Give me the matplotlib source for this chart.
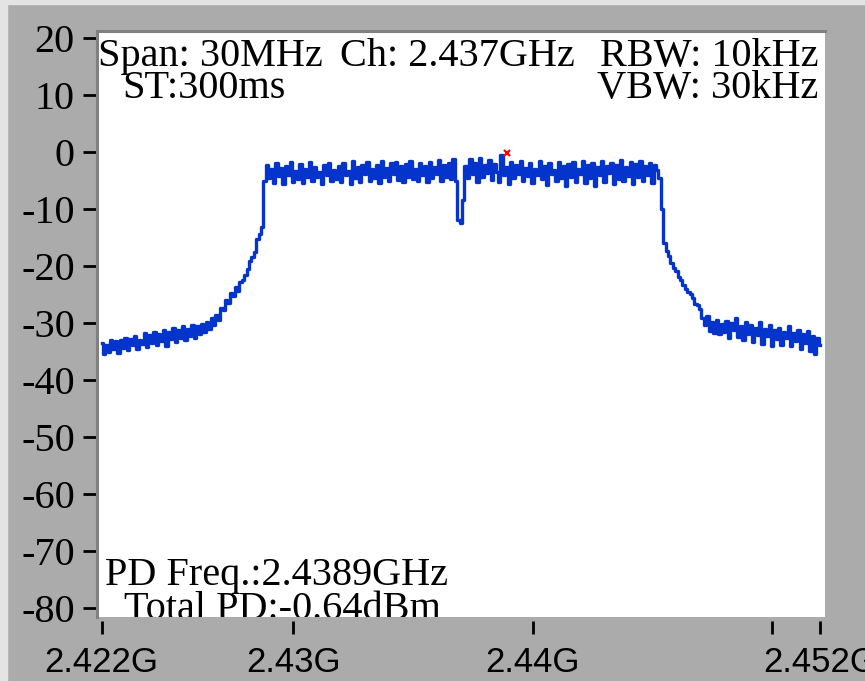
import matplotlib
matplotlib.use('Agg')
import matplotlib.pyplot as plt
from matplotlib.patches import Rectangle
import numpy as np

# Sweep: 2.422 GHz .. 2.452 GHz, one reading every 0.1 MHz
freq_start_ghz = 2.422
freq_stop_ghz = 2.452
level_dbm = [
    # left noise floor
    -33.5, -35.5, -33.8, -35.0, -32.9, -34.6, -33.2, -35.2, -33.0, -34.3,
    -32.6, -34.8, -32.8, -33.9, -32.3, -34.5, -32.9, -33.6, -31.8, -34.2,
    -32.1, -33.5, -31.5, -33.9, -31.9, -33.1, -31.2, -34.0, -31.6, -32.8,
    -30.9, -33.4, -31.3, -32.6, -30.6, -33.0, -31.0, -32.2, -30.4, -32.7,
    -30.5, -32.0, -30.2, -31.6, -29.8,
    # left skirt
    -31.0, -29.2, -30.3, -28.6, -29.4, -27.3, -27.8, -26.0, -26.5, -24.8,
    -25.2, -23.6, -24.3, -22.8, -22.4, -21.6, -20.6, -19.2, -18.4, -17.6,
    -15.2, -14.3, -13.2,
    # channel, lower half
    -5.0, -2.3, -4.6, -3.0, -5.4, -2.0, -4.2, -2.8, -5.6, -2.5,
    -4.0, -1.8, -5.2, -3.3, -4.8, -2.1, -5.5, -2.9, -4.3, -1.7,
    -5.1, -2.6, -4.4, -3.5, -5.7, -2.2, -4.1, -1.9, -5.0, -3.1,
    -4.7, -2.4, -5.3, -2.0, -4.0, -3.4, -5.6, -1.6, -4.5, -2.7,
    -5.2, -2.2, -3.9, -1.8, -5.0, -2.9, -4.6, -2.3, -5.4, -1.5,
    -4.3, -2.8, -5.1, -2.0, -3.8, -1.7, -4.9, -2.5, -5.3, -2.1,
    -4.4, -1.6, -4.8, -3.0, -5.0, -1.9, -4.1, -2.4, -5.2, -1.8,
    -4.6, -2.6, -3.9, -1.4, -5.1, -2.2, -4.3, -1.9, -4.8, -1.3,
    -5.0,
    # DC null
    -12.0, -12.4, -8.5,
    # channel, upper half
    -2.5, -4.6, -1.2, -3.9, -2.0, -5.2, -1.0, -4.4, -2.3, -3.6,
    -1.4, -4.9, -2.1, -3.5, -5.3, -0.5, -4.1, -2.6, -5.6, -1.7,
    -4.5, -2.2, -3.8, -1.5, -5.0, -2.8, -4.2, -1.9, -5.4, -3.0,
    -4.0, -1.6, -4.7, -2.4, -5.8, -2.0, -3.9, -3.2, -5.1, -1.8,
    -4.6, -2.5, -6.0, -2.1, -4.4, -1.7, -5.3, -2.9, -3.8, -1.5,
    -5.5, -2.3, -4.5, -2.0, -5.9, -2.7, -4.0, -1.6, -5.2, -2.4,
    -3.7, -1.9, -5.6, -2.2, -4.8, -1.4, -5.0, -2.6, -4.2, -1.8,
    -5.7, -2.1, -4.4, -1.6, -5.1, -2.5, -4.0, -1.9, -5.4, -2.2, -3.2,
    # right skirt
    -4.6, -10.0, -16.0, -17.4, -18.2, -19.5, -20.4, -20.9, -22.0, -22.4,
    -23.4, -24.1, -24.6, -24.9, -25.6, -26.6, -26.9, -27.6, -29.2, -30.4,
    -28.7, -31.4, -29.8,
    # right noise floor
    -31.8, -29.4, -32.0, -30.2, -31.5, -29.6, -32.6, -30.0, -31.2, -29.1,
    -32.4, -30.5, -33.0, -29.9, -31.9, -30.3, -33.3, -30.8, -32.1, -29.8,
    -33.6, -31.0, -32.2, -30.4, -34.1, -31.3, -32.8, -30.9, -33.9, -31.5,
    -32.6, -30.6, -34.0, -31.8, -33.1, -31.2, -34.6, -32.0, -33.5, -31.4,
    -34.9, -32.2, -35.4, -32.6, -33.8,
]

marker_freq_ghz = 2.43893
marker_level_dbm = -0.2

x_ticks = [2.422, 2.43, 2.44, 2.45, 2.452]
x_tick_labels = ['2.422G', '2.43G', '2.44G', '', '2.452G']
y_ticks = [-80, -70, -60, -50, -40, -30, -20, -10, 0, 10, 20]
y_tick_labels = ['-80', '-70', '-60', '-50', '-40', '-30', '-20', '-10', '0', '10', '20']

W, H = 865, 681


def fx(px):
    return px / W


def fy(py):
    return 1 - py / H


freq = np.linspace(freq_start_ghz, freq_stop_ghz, len(level_dbm))

fig = plt.figure(figsize=(W / 100, H / 100), dpi=100, facecolor='#ababab')
# light outer frame of the window
fig.patches.append(Rectangle((0, fy(4)), 1, 4 / H, transform=fig.transFigure,
                             color='#e4e4e4', zorder=0))
fig.patches.append(Rectangle((0, 0), fx(7), 1, transform=fig.transFigure,
                             color='#e4e4e4', zorder=0))

ax = fig.add_axes([fx(97), fy(617), fx(728), 586 / H])
ax.set_facecolor('white')

ax.plot(freq, level_dbm, color='#0434cc', lw=2.4, drawstyle='steps-mid')
ax.plot([marker_freq_ghz], [marker_level_dbm], 'x', color='red', ms=5, mew=1.6)

ax.set_xlim(2.421804, 2.452209)
ax.set_ylim(-81.58, 21.23)

for s in ['right', 'bottom']:
    ax.spines[s].set_visible(False)
for s in ['top', 'left']:
    ax.spines[s].set_color('#808080')
    ax.spines[s].set_linewidth(2.2)
ax.spines['bottom'].set_position(('outward', 3))

ax.set_xticks(x_ticks)
ax.set_xticklabels(x_tick_labels, fontfamily='Liberation Sans', fontsize=25)
ax.set_yticks(y_ticks)
ax.set_yticklabels(y_tick_labels, fontfamily='Liberation Serif', fontsize=29)
ax.tick_params(axis='x', length=9, width=2, color='black', pad=9)
ax.tick_params(axis='y', length=10, width=2, color='black', pad=6)

# readout texts on the screen
txt = dict(fontsize=29, family='Liberation Serif', va='baseline',
           transform=fig.transFigure, clip_on=True)
ax.text(fx(98), fy(66), 'Span: 30MHz', ha='left', **txt)
ax.text(fx(340), fy(66), 'Ch: 2.437GHz', ha='left', **txt)
ax.text(fx(818), fy(66), 'RBW: 10kHz', ha='right', **txt)
ax.text(fx(122), fy(98), 'ST:300ms', ha='left', **txt)
ax.text(fx(818), fy(98), 'VBW: 30kHz', ha='right', **txt)
ax.text(fx(105), fy(585), 'PD Freq.:2.4389GHz', ha='left', **txt)
ax.text(fx(124), fy(619), 'Total PD:-0.64dBm', ha='left', **txt)

fig.savefig('out.png', dpi=100, facecolor=fig.get_facecolor())
